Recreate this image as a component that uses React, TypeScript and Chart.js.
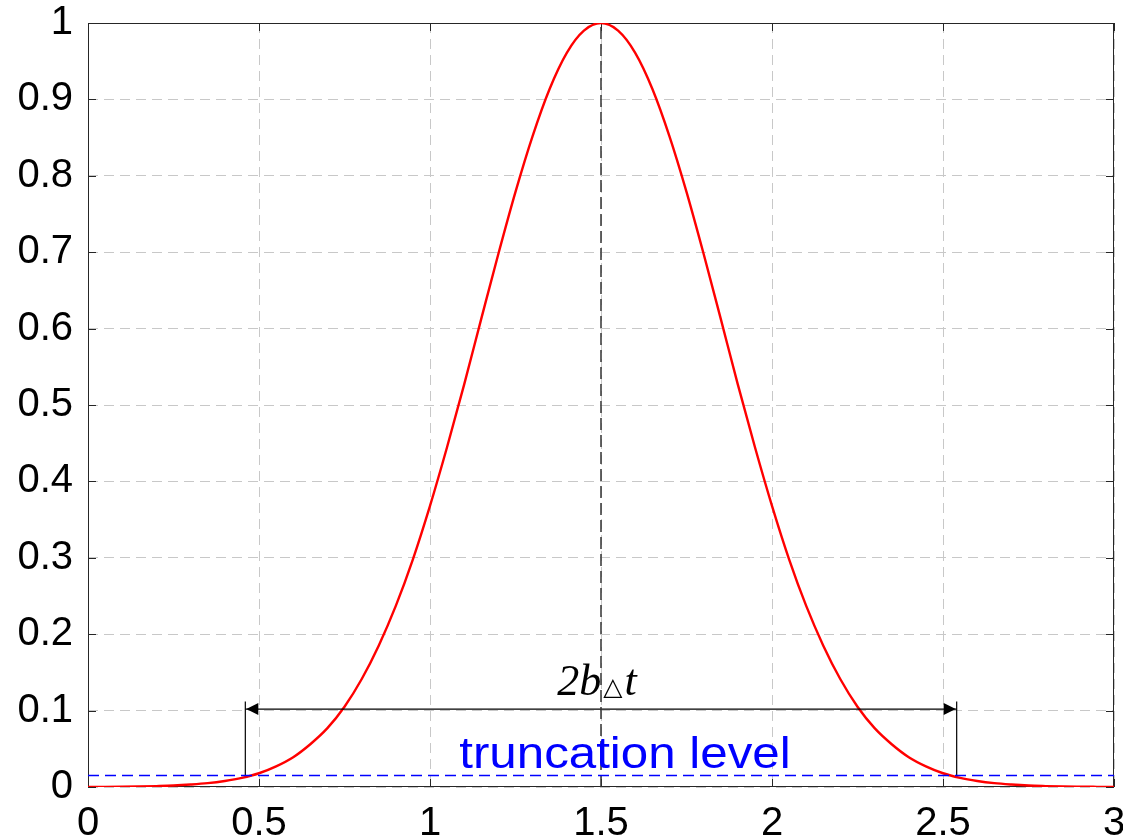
import React, { useEffect, useRef } from "react";
import { Chart, registerables } from "chart.js";

Chart.register(...registerables);

// Curve samples (x step 0.05)
const xValues = [
  0, 0.05, 0.1, 0.15, 0.2, 0.25, 0.3, 0.35, 0.4, 0.45, 0.5, 0.55, 0.6, 0.65, 0.7, 0.75,
  0.8, 0.85, 0.9, 0.95, 1, 1.05, 1.1, 1.15, 1.2, 1.25, 1.3, 1.35, 1.4, 1.45, 1.5,
  1.55, 1.6, 1.65, 1.7, 1.75, 1.8, 1.85, 1.9, 1.95, 2, 2.05, 2.1, 2.15, 2.2, 2.25,
  2.3, 2.35, 2.4, 2.45, 2.5, 2.55, 2.6, 2.65, 2.7, 2.75, 2.8, 2.85, 2.9, 2.95, 3,
];
const yValues = [
  0.0001, 0.0002, 0.0004, 0.0007, 0.0012, 0.0019, 0.0032, 0.005, 0.0079, 0.012, 0.018,
  0.027, 0.039, 0.056, 0.077, 0.105, 0.141, 0.185, 0.237, 0.298, 0.368, 0.445, 0.527,
  0.613, 0.698, 0.779, 0.852, 0.914, 0.961, 0.99, 1.0,
  0.99, 0.961, 0.914, 0.852, 0.779, 0.698, 0.613, 0.527, 0.445, 0.368, 0.298, 0.237,
  0.185, 0.141, 0.105, 0.077, 0.056, 0.039, 0.027, 0.018, 0.012, 0.0079, 0.005, 0.0032,
  0.0019, 0.0012, 0.0007, 0.0004, 0.0002, 0.0001,
];

const xTickLabels = ["0", "0.5", "1", "1.5", "2", "2.5", "3"];
const yTickLabels = ["0", "0.1", "0.2", "0.3", "0.4", "0.5", "0.6", "0.7", "0.8", "0.9", "1"];

// Annotation values
const truncationLevel = 0.015;
const centerX = 1.5;
const leftBound = 0.46;
const rightBound = 2.54;
const arrowY = 0.102;
const barTop = 0.112;
const widthLabel = ["2b", "\u25B3", "t"];
const truncationLabel = "truncation level";
const truncationLabelX = 1.57;

const annotationPlugin = {
  id: "annotations",
  beforeDatasetsDraw(chart: any) {
    const { ctx, chartArea: a, scales } = chart;
    ctx.save();
    ctx.strokeStyle = "#262626";
    ctx.lineWidth = 1;
    ctx.setLineDash([]);
    ctx.strokeRect(a.left + 0.5, a.top + 0.5, a.right - a.left - 1, a.bottom - a.top - 1);
    const tl = 8;
    ctx.beginPath();
    scales.y.ticks.forEach((t: any) => {
      const py = Math.round(scales.y.getPixelForValue(t.value)) + 0.5;
      ctx.moveTo(a.left, py);
      ctx.lineTo(a.left + tl, py);
      ctx.moveTo(a.right, py);
      ctx.lineTo(a.right - tl, py);
    });
    scales.x.ticks.forEach((t: any) => {
      const px = Math.round(scales.x.getPixelForValue(t.value)) + 0.5;
      ctx.moveTo(px, a.bottom);
      ctx.lineTo(px, a.bottom - tl);
      ctx.moveTo(px, a.top);
      ctx.lineTo(px, a.top + tl);
    });
    ctx.stroke();
    ctx.restore();
  },
  afterDatasetsDraw(chart: any) {
    const { ctx, scales } = chart;
    const xs = scales.x;
    const ys = scales.y;
    ctx.save();
    // arrowheads
    const py = ys.getPixelForValue(arrowY);
    const lx = xs.getPixelForValue(leftBound);
    const rx = xs.getPixelForValue(rightBound);
    ctx.fillStyle = "#000";
    ctx.beginPath();
    ctx.moveTo(lx + 1, py);
    ctx.lineTo(lx + 13, py - 6);
    ctx.lineTo(lx + 13, py + 6);
    ctx.closePath();
    ctx.fill();
    ctx.beginPath();
    ctx.moveTo(rx - 1, py);
    ctx.lineTo(rx - 13, py - 6);
    ctx.lineTo(rx - 13, py + 6);
    ctx.closePath();
    ctx.fill();

    // 2b△t label
    const cx = xs.getPixelForValue(centerX) - 4;
    const base = py - 14;
    const f1 = "italic 44px 'Liberation Serif'";
    const f2 = "25px 'DejaVu Sans'";
    ctx.font = f1;
    const w1 = ctx.measureText(widthLabel[0]).width;
    const w3 = ctx.measureText(widthLabel[2]).width;
    ctx.font = f2;
    const w2 = ctx.measureText(widthLabel[1]).width;
    let x0 = cx - (w1 + w2 + w3 + 4) / 2;
    ctx.textBaseline = "alphabetic";
    ctx.textAlign = "left";
    ctx.fillStyle = "#000";
    ctx.font = f1;
    ctx.fillText(widthLabel[0], x0, base);
    x0 += w1 + 2;
    ctx.font = f2;
    ctx.fillText(widthLabel[1], x0, base);
    x0 += w2 + 2;
    ctx.font = f1;
    ctx.fillText(widthLabel[2], x0, base);

    // truncation level label
    const tx = xs.getPixelForValue(truncationLabelX);
    const ty = ys.getPixelForValue(truncationLevel) - 8;
    ctx.translate(tx, ty);
    ctx.scale(1.12, 1);
    ctx.font = "44px 'Liberation Sans'";
    ctx.fillStyle = "#0000ff";
    ctx.textAlign = "center";
    ctx.fillText(truncationLabel, 0, 0);
    ctx.restore();
  },
};

const zeroPad = (s: any) => {
  s.paddingLeft = 0;
  s.paddingRight = 0;
  s.paddingTop = 0;
  s.paddingBottom = 0;
};

export default function App() {
  const ref = useRef<HTMLCanvasElement>(null);
  useEffect(() => {
    if (!ref.current) return;
    const curve = xValues.map((x, i) => ({ x, y: yValues[i] }));
    const chart = new Chart(ref.current, {
      type: "scatter",
      data: {
        datasets: [
          {
            data: [
              { x: 0, y: truncationLevel },
              { x: 3, y: truncationLevel },
            ],
            showLine: true,
            borderColor: "#0000ff",
            borderWidth: 1.5,
            borderDash: [11, 6],
            pointRadius: 0,
          },
          {
            data: [
              { x: centerX, y: 0 },
              { x: centerX, y: 1 },
            ],
            showLine: true,
            borderColor: "#333333",
            borderWidth: 1.5,
            borderDash: [12, 5],
            pointRadius: 0,
          },
          {
            data: [
              { x: leftBound, y: truncationLevel },
              { x: leftBound, y: barTop },
            ],
            showLine: true,
            borderColor: "#000",
            borderWidth: 1.2,
            pointRadius: 0,
          },
          {
            data: [
              { x: rightBound, y: truncationLevel },
              { x: rightBound, y: barTop },
            ],
            showLine: true,
            borderColor: "#000",
            borderWidth: 1.2,
            pointRadius: 0,
          },
          {
            data: [
              { x: leftBound, y: arrowY },
              { x: rightBound, y: arrowY },
            ],
            showLine: true,
            borderColor: "#000",
            borderWidth: 1.2,
            pointRadius: 0,
          },
          {
            data: curve,
            showLine: true,
            borderColor: "#ff0000",
            borderWidth: 2.4,
            pointRadius: 0,
            cubicInterpolationMode: "monotone",
          },
        ],
      },
      options: {
        animation: false,
        responsive: false,
        devicePixelRatio: 1,
        layout: { autoPadding: false, padding: { top: 23, right: 9, left: 0, bottom: 0 } },
        plugins: { legend: { display: false }, tooltip: { enabled: false } },
        scales: {
          x: {
            type: "linear",
            min: 0,
            max: 3,
            afterFit: (s: any) => {
              s.height = 51;
              zeroPad(s);
            },
            ticks: {
              stepSize: 0.5,
              autoSkip: false,
              maxRotation: 0,
              minRotation: 0,
              padding: 13,
              color: "#000",
              font: { family: "'Liberation Sans'", size: 40 },
              callback: (_v: any, i: number) => xTickLabels[i],
            },
            grid: {
              color: "#c8c8c8",
              lineWidth: 1,
              drawTicks: false,
            },
            border: { display: false, dash: [10, 6] },
          },
          y: {
            type: "linear",
            min: 0,
            max: 1,
            afterFit: (s: any) => {
              s.width = 88;
              zeroPad(s);
            },
            ticks: {
              stepSize: 0.1,
              autoSkip: false,
              padding: 15,
              color: "#000",
              font: { family: "'Liberation Sans'", size: 40 },
              callback: (_v: any, i: number) => yTickLabels[i],
            },
            grid: {
              color: "#c8c8c8",
              lineWidth: 1,
              drawTicks: false,
            },
            border: { display: false, dash: [10, 6] },
          },
        },
      },
      plugins: [annotationPlugin],
    });
    return () => chart.destroy();
  }, []);
  return (
    <div style={{ position: "absolute", left: 0, top: 0, width: 1123, height: 838, background: "#fff" }}>
      <canvas ref={ref} width={1123} height={838} style={{ width: 1123, height: 838 }} />
    </div>
  );
}
